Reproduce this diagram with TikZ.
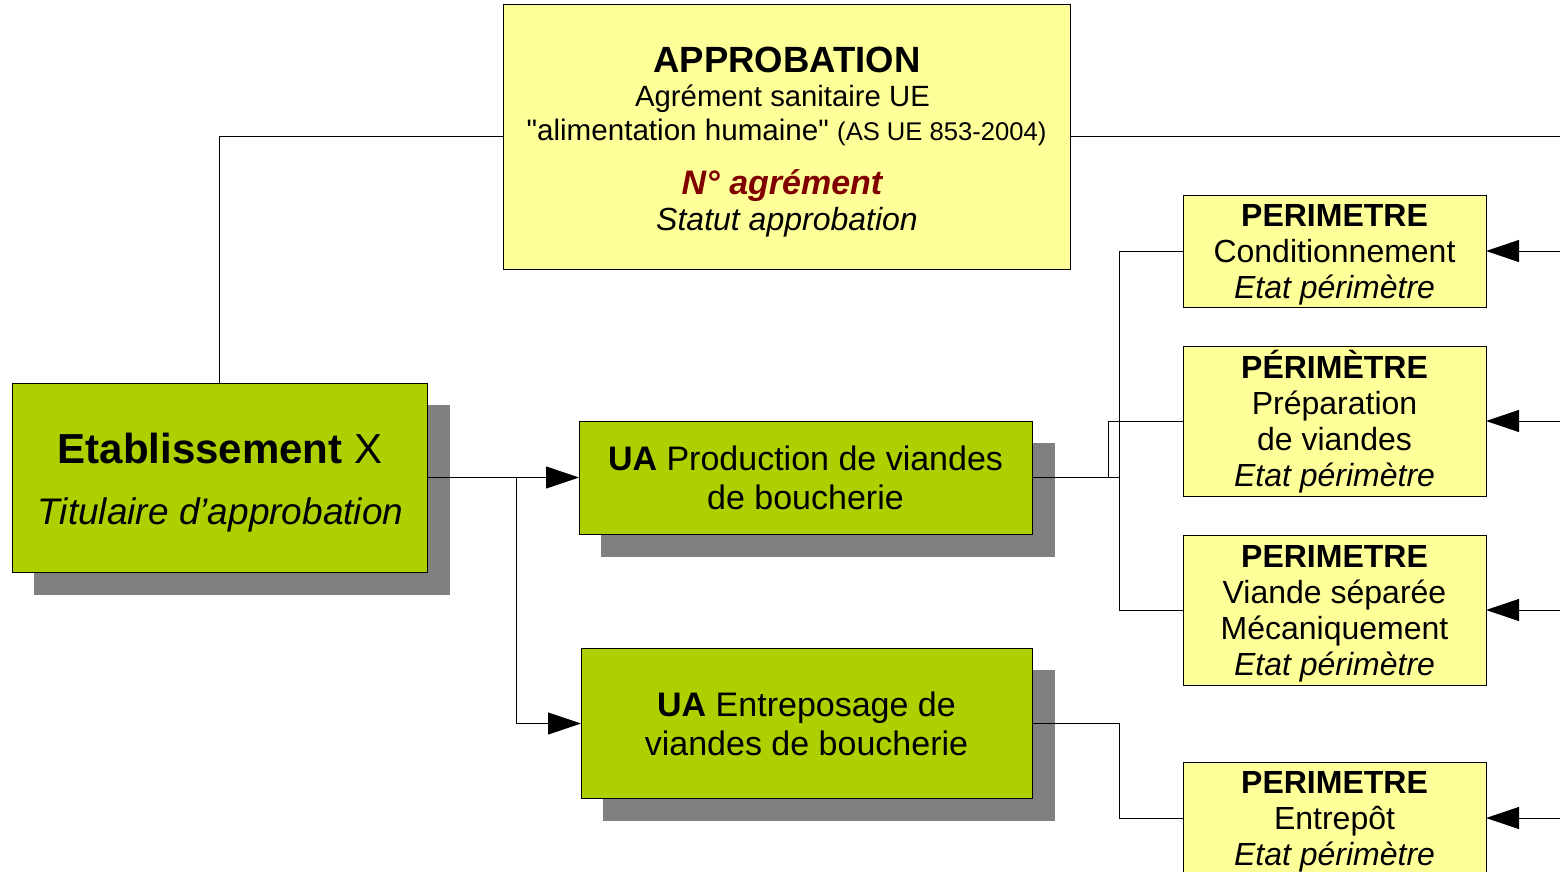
\documentclass[tikz,border=0pt]{standalone}
\usepackage{fontspec}
\setmainfont{Liberation Sans}
\newfontfamily\plainsans{Liberation Sans}
\usetikzlibrary{arrows.meta}
\definecolor{yel}{HTML}{FFFF99}
\definecolor{grn}{HTML}{AECF00}
\definecolor{shd}{HTML}{808080}
\definecolor{dred}{HTML}{800000}
\begin{document}
\begin{tikzpicture}[x=1pt,y=-1pt,
  yelbox/.style={draw=black, line width=1pt, fill=yel, inner sep=0pt, outer sep=0pt, align=center},
  grnbox/.style={draw=black, line width=1pt, fill=grn, inner sep=0pt, outer sep=0pt, align=center},
  shadowbox/.style={fill=shd},
  conn/.style={draw=black, line width=1pt},
  arr/.style={conn, -{Triangle[length=33pt,width=22pt]}},
  perimtext/.style={inner sep=0pt, align=center, font=\fontsize{32}{36}\selectfont},
  uafont/.style={font=\fontsize{34}{39}\selectfont}
]
\useasboundingbox (0,0) rectangle (1560,872);

% shadows
\fill[shadowbox] (34,405) rectangle (450,595);
\fill[shadowbox] (601,443) rectangle (1055,557);
\fill[shadowbox] (603,670) rectangle (1055,821);

% boxes
\node[yelbox, minimum width=567pt, minimum height=264pt] (appro) at (786.5,137) {};
\node[grnbox, minimum width=415pt, minimum height=189pt] (etab) at (219.5,477.5) {};
\node[grnbox, uafont, minimum width=453pt, minimum height=113pt] (uap) at (805.5,477.5)
  {\textbf{UA} Production de viandes\\de boucherie};
\node[grnbox, uafont, minimum width=451pt, minimum height=150pt] (uae) at (806.5,723.5)
  {\textbf{UA} Entreposage de\\viandes de boucherie};
\node[yelbox, minimum width=303pt, minimum height=112pt] (p1) at (1334.5,251) {};
\node[yelbox, minimum width=303pt, minimum height=150pt] (p2) at (1334.5,421) {};
\node[yelbox, minimum width=303pt, minimum height=150pt] (p3) at (1334.5,610) {};
\node[yelbox, minimum width=303pt, minimum height=112pt] (p4) at (1334.5,818) {};

% perimeter texts
\node[perimtext] (p1t) at ([yshift=-4pt]p1.center)
  {\textbf{PERIMETRE}\\Conditionnement\\\textit{Etat périmètre}};
\node[perimtext] (p2t) at ([yshift=-1pt]p2.center)
  {\textbf{PÉRIMÈTRE}\\Préparation\\de viandes\\\textit{Etat périmètre}};
\node[perimtext] (p3t) at ([yshift=-4pt]p3.center)
  {\textbf{PERIMETRE}\\Viande séparée\\Mécaniquement\\\textit{Etat périmètre}};
\node[perimtext] (p4t) at ([yshift=-4pt]p4.center)
  {\textbf{PERIMETRE}\\Entrepôt\\\textit{Etat périmètre}};

% approbation text
\node[anchor=base, inner sep=0pt, font=\fontsize{36.5}{40}\selectfont\bfseries] (t1) at (787,73) {APPROBATION};
\node[anchor=base, inner sep=0pt, font=\fontsize{29.3}{33}\selectfont] (t2) at (782.5,107) {Agrément sanitaire UE};
\node[anchor=base, inner sep=0pt, font=\fontsize{29.6}{33}\selectfont] (t3) at (786.5,140) {{\plainsans"}alimentation humaine{\plainsans"} {\fontsize{25.6}{28}\selectfont(AS UE 853-2004)}};
\node[anchor=base, inner sep=0pt, font=\fontsize{34}{38}\selectfont\bfseries\itshape, text=dred] (t4) at (782,194) {N° agrément};
\node[anchor=base, inner sep=0pt, font=\fontsize{32}{36}\selectfont\itshape] (t5) at (787,230) {Statut approbation};

% etablissement text
\node[anchor=base, inner sep=0pt, font=\fontsize{42}{46}\selectfont] (e1) at (220,463) {\textbf{Etablissement} X};
\node[anchor=base, inner sep=0pt, font=\fontsize{37}{41}\selectfont\itshape] (e2) at (220.5,524) {Titulaire d’approbation};

% coordinates
\coordinate (rtop) at (1560,137);
\coordinate (br) at (516,477.5);
\coordinate (j1) at (1119,477.5);
\coordinate (j2) at (1102,477);
\coordinate (j3) at (1119,723.5);
\coordinate (r1) at (1560,251);
\coordinate (r2) at (1560,421);
\coordinate (r3) at (1560,610);
\coordinate (r4) at (1560,818);

% connectors
\draw[conn] (appro.west) -| (etab.north);
\draw[conn] (appro.east) -- (rtop);
\draw[arr] (etab.east) -- (uap.west);
\draw[arr] (br) |- (uae.west);
\draw[conn] (uap.east) -- (j1) |- (p1.west);
\draw[conn] (j1) |- (p3.west);
\draw[conn] (j2) -- ++(6,0) |- (p2.west);
\draw[conn] (uae.east) -- (j3) |- (p4.west);
\draw[arr] (r1) -- (p1.east);
\draw[arr] (r2) -- (p2.east);
\draw[arr] (r3) -- (p3.east);
\draw[arr] (r4) -- (p4.east);
\end{tikzpicture}
\end{document}
